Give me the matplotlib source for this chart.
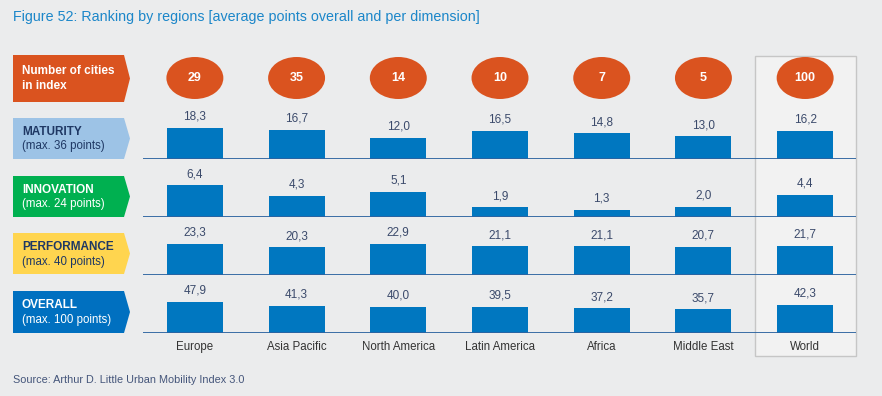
import matplotlib
matplotlib.use('Agg')
import matplotlib.pyplot as plt
from matplotlib.patches import Polygon, Ellipse, Rectangle

plt.rcParams['font.family'] = ['Liberation Sans', 'DejaVu Sans']

# Data
regions = ['Europe', 'Asia Pacific', 'North America', 'Latin America',
           'Africa', 'Middle East', 'World']
cities = [29, 35, 14, 10, 7, 5, 100]
maturity = [18.3, 16.7, 12.0, 16.5, 14.8, 13.0, 16.2]
innovation = [6.4, 4.3, 5.1, 1.9, 1.3, 2.0, 4.4]
performance = [23.3, 20.3, 22.9, 21.1, 21.1, 20.7, 21.7]
overall = [47.9, 41.3, 40.0, 39.5, 37.2, 35.7, 42.3]

row_titles = ['MATURITY', 'INNOVATION', 'PERFORMANCE', 'OVERALL']
row_subtitles = ['(max. 36 points)', '(max. 24 points)', '(max. 40 points)',
                 '(max. 100 points)']
row_values = [maturity, innovation, performance, overall]

BG = '#ebeced'
ORANGE = '#da531f'
BAR = '#0077c0'
LINE = '#2c63a0'
NAVY = '#1f3864'
VALTXT = '#3b4a6b'
row_fills = ['#9dc3e6', '#00b050', '#ffd54f', '#0070c0']
row_txt = [NAVY, 'white', NAVY, 'white']

W, H = 882., 396.
fig = plt.figure(figsize=(W / 100, H / 100), dpi=100, facecolor=BG)

# background layer in pixel coordinates
bg = fig.add_axes([0, 0, 1, 1], zorder=0)
bg.set_xlim(0, W)
bg.set_ylim(H, 0)
bg.axis('off')
bg.set_facecolor(BG)

bg.text(13, 17, 'Figure 52: Ranking by regions [average points overall and per dimension]',
        color='#1b86c9', fontsize=10.3, va='center', ha='left')
bg.text(13, 380, 'Source: Arthur D. Little Urban Mobility Index 3.0',
        color='#44557a', fontsize=7.8, va='center', ha='left')

# highlighted World column
bg.add_patch(Rectangle((755, 56), 101, 300, facecolor='#f2f2f2',
                       edgecolor='#c6c6c6', lw=1))


def label_box(y0, y1, color):
    ym = (y0 + y1) / 2.
    bg.add_patch(Polygon([(13, y0), (124, y0), (130, ym), (124, y1), (13, y1)],
                         closed=True, facecolor=color, edgecolor='none'))


# cities label
label_box(55, 102, ORANGE)
bg.text(22, 78.5, 'Number of cities\nin index', color='white', fontsize=8.5,
        fontweight='bold', va='center', ha='left', linespacing=1.3)

baselines = [158.5, 216.5, 274.5, 332.5]
boxes = [(118, 159), (176, 217), (233, 274), (291, 333)]
for i in range(4):
    y0, y1 = boxes[i]
    label_box(y0, y1, row_fills[i])
    ym = (y0 + y1) / 2.
    bg.text(22, ym - 6.5, row_titles[i], color=row_txt[i], fontsize=8.5,
            fontweight='bold', va='center', ha='left')
    bg.text(22, ym + 8, row_subtitles[i], color=row_txt[i], fontsize=8.3,
            va='center', ha='left')

# data axes share the same horizontal mapping
X0, X1 = 143., 856.
XLIM = (-0.51, 6.5)
xs = list(range(len(regions)))


def data_axes(top_px, height_px):
    ax = fig.add_axes([X0 / W, (H - top_px - height_px) / H,
                       (X1 - X0) / W, height_px / H], zorder=2)
    ax.set_xlim(*XLIM)
    ax.axis('off')
    ax.patch.set_alpha(0)
    return ax


# number of cities ellipses
axc = data_axes(57, 42)
axc.set_ylim(0, 1)
for x, n in zip(xs, cities):
    axc.add_patch(Ellipse((x, 0.5), 0.56, 1.0, facecolor=ORANGE,
                          edgecolor='none'))
    axc.text(x, 0.5, str(n), color='white', fontsize=9, fontweight='bold',
             ha='center', va='center')

# bar rows
ROW_H = 50.
for base, vals in zip(baselines, row_values):
    ax = data_axes(base - ROW_H, ROW_H)
    top = max(vals) * ROW_H / 31.
    ax.set_ylim(0, top)
    ax.bar(xs, vals, width=0.55, color=BAR, edgecolor='none', zorder=2)
    ax.axhline(0, color=LINE, lw=1.3, zorder=3)
    for x, v in zip(xs, vals):
        ax.annotate(('%.1f' % v).replace('.', ','), (x, v),
                    xytext=(0, 3.8), textcoords='offset points',
                    ha='center', va='bottom', fontsize=8.5, color=VALTXT)

# region labels
axl = data_axes(340, 14)
axl.set_ylim(0, 1)
for x, name in zip(xs, regions):
    axl.text(x, 0.5, name, ha='center', va='center', fontsize=8.3,
             color='#333333')

fig.savefig('out.png', dpi=100, facecolor=BG)
